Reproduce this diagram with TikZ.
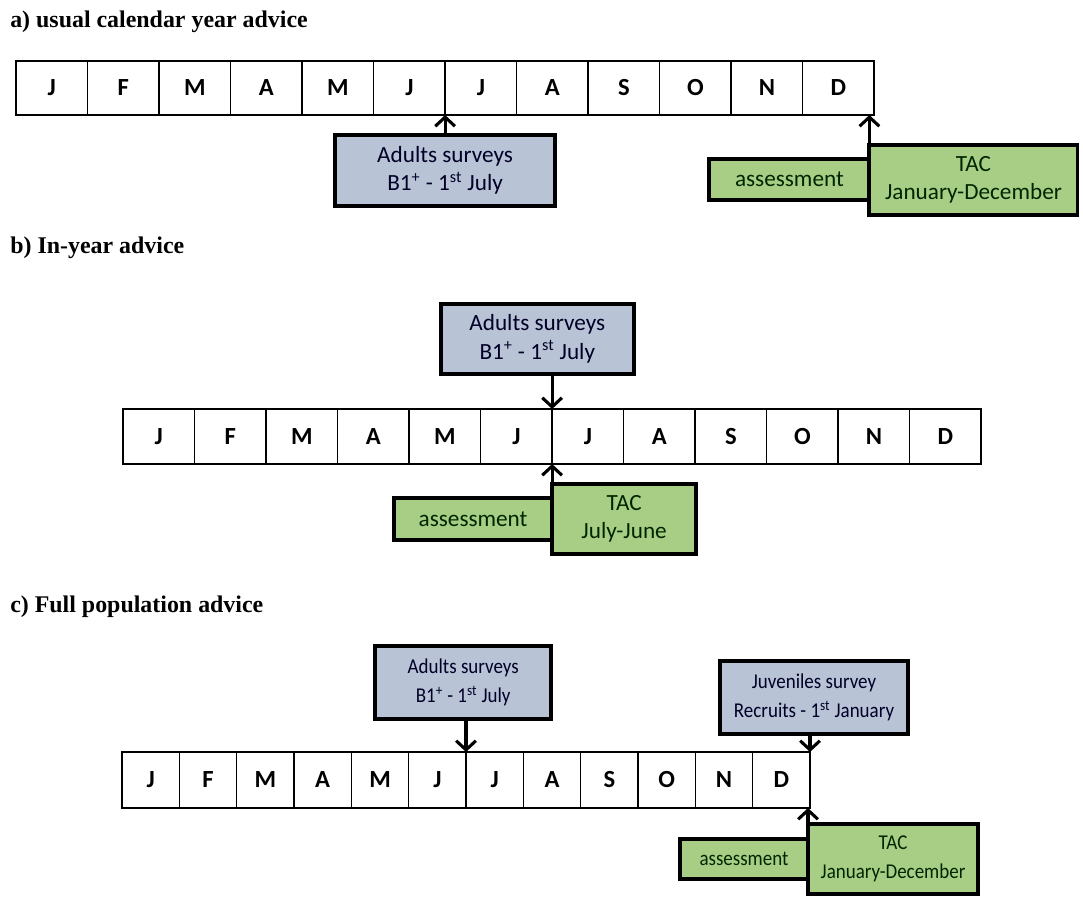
\documentclass[tikz,border=0pt]{standalone}
\usepackage{fontspec}
\setmainfont{Carlito}
\newfontfamily\titlefont{Liberation Serif}
\newfontfamily\narrowfont{Carlito}[FakeStretch=0.9]
\usetikzlibrary{positioning}
\usetikzlibrary{arrows.meta}
\definecolor{surveyblue}{RGB}{184,195,214}
\definecolor{tacgreen}{RGB}{168,206,134}
\tikzstyle{month} = [rectangle, minimum width=1.7875cm, minimum height=1.36cm, inner sep=0pt, outer sep=0pt, draw=black, line width=1.1pt, font=\bfseries\fontsize{17.5}{17.5}\selectfont]
\tikzstyle{monthc} = [month, minimum width=1.433cm, minimum height=1.4cm]
\tikzstyle{survey} = [rectangle, align=center, inner sep=0pt, outer sep=0pt, draw=black, line width=2.8pt, fill=surveyblue, text=black!85!blue, font=\fontsize{16.5}{20}\selectfont]
\tikzstyle{surveyc} = [survey, font=\narrowfont\fontsize{15}{20.5}\selectfont]
\tikzstyle{tac} = [survey, fill=tacgreen, text=black!85!green]
\tikzstyle{tacc} = [surveyc, fill=tacgreen, text=black!85!green]
\tikzstyle{heading} = [anchor=base west, inner sep=0pt, font=\titlefont\bfseries\fontsize{17}{17}\selectfont]
\tikzstyle{arrow} = [line width=2.2pt,->,>={Straight Barb[length=6.5pt,width=14pt]}]

\begin{document}
\begin{tikzpicture}[x=0.025cm, y=-0.025cm]
        \useasboundingbox (0,0) rectangle (1083,898);
        % a) usual calendar year advice
        \node (tita) [heading] at (10,28) {a) usual calendar year advice};
        \node (a1) [month, minimum height=1.35cm] at (51.75,88) {J};
        \node (a2) [month, minimum height=1.35cm, right=0pt of a1] {F};
        \node (a3) [month, minimum height=1.35cm, right=0pt of a2] {M};
        \node (a4) [month, minimum height=1.35cm, right=0pt of a3] {A};
        \node (a5) [month, minimum height=1.35cm, right=0pt of a4] {M};
        \node (a6) [month, minimum height=1.35cm, right=0pt of a5] {J};
        \node (a7) [month, minimum height=1.35cm, right=0pt of a6] {J};
        \node (a8) [month, minimum height=1.35cm, right=0pt of a7] {A};
        \node (a9) [month, minimum height=1.35cm, right=0pt of a8] {S};
        \node (a10) [month, minimum height=1.35cm, right=0pt of a9] {O};
        \node (a11) [month, minimum height=1.35cm, right=0pt of a10] {N};
        \node (a12) [month, minimum height=1.35cm, right=0pt of a11] {D};
        \node (surva) [survey, minimum width=5.5cm, minimum height=1.78cm, below=0.5cm of a6.south east] {Adults surveys\\B1\textsuperscript{+} - 1\textsuperscript{st} July};
        \node (taca) [tac, minimum width=5.2cm, minimum height=1.75cm, below right=0.74cm and -0.12cm of a12.south east] {TAC\\January-December};
        \node (assa) [tac, minimum width=4.0cm, minimum height=1.02cm, left=0pt of taca] {assessment};
        \draw [arrow] (surva) -- (a6.south east);
        \draw [arrow] (taca.north west) -- (taca.north west |- a12.south);

        % b) In-year advice
        \node (titb) [heading] at (10,254) {b) In-year advice};
        \node (b1) [month, minimum height=1.375cm] at (158.75,436.5) {J};
        \node (b2) [month, minimum height=1.375cm, right=0pt of b1] {F};
        \node (b3) [month, minimum height=1.375cm, right=0pt of b2] {M};
        \node (b4) [month, minimum height=1.375cm, right=0pt of b3] {A};
        \node (b5) [month, minimum height=1.375cm, right=0pt of b4] {M};
        \node (b6) [month, minimum height=1.375cm, right=0pt of b5] {J};
        \node (b7) [month, minimum height=1.375cm, right=0pt of b6] {J};
        \node (b8) [month, minimum height=1.375cm, right=0pt of b7] {A};
        \node (b9) [month, minimum height=1.375cm, right=0pt of b8] {S};
        \node (b10) [month, minimum height=1.375cm, right=0pt of b9] {O};
        \node (b11) [month, minimum height=1.375cm, right=0pt of b10] {N};
        \node (b12) [month, minimum height=1.375cm, right=0pt of b11] {D};
        \node (survb) [survey, minimum width=4.82cm, minimum height=1.75cm, above=0.88cm of b6.north east, xshift=-0.37cm] {Adults surveys\\B1\textsuperscript{+} - 1\textsuperscript{st} July};
        \node (tacb) [tac, minimum width=3.6cm, minimum height=1.75cm, below right=0.5cm and 0cm of b6.south east] {TAC\\July-June};
        \node (assb) [tac, minimum width=3.95cm, minimum height=1.05cm, left=0pt of tacb] {assessment};
        \draw [arrow] (survb.south -| b6.north east) -- (b6.north east);
        \draw [arrow] (tacb.north west) -- (b6.south east);

        % c) Full population advice
        \node (titc) [heading] at (10,612) {c) Full population advice};
        \node (c1) [monthc] at (150.67,780) {J};
        \node (c2) [monthc, right=0pt of c1] {F};
        \node (c3) [monthc, right=0pt of c2] {M};
        \node (c4) [monthc, right=0pt of c3] {A};
        \node (c5) [monthc, right=0pt of c4] {M};
        \node (c6) [monthc, right=0pt of c5] {J};
        \node (c7) [monthc, right=0pt of c6] {J};
        \node (c8) [monthc, right=0pt of c7] {A};
        \node (c9) [monthc, right=0pt of c8] {S};
        \node (c10) [monthc, right=0pt of c9] {O};
        \node (c11) [monthc, right=0pt of c10] {N};
        \node (c12) [monthc, right=0pt of c11] {D};
        \node (survc) [surveyc, minimum width=4.4cm, minimum height=1.82cm, above=0.82cm of c6.north east, xshift=-0.07cm] {Adults surveys\\B1\textsuperscript{+} - 1\textsuperscript{st} July};
        \node (juvc) [surveyc, minimum width=4.7cm, minimum height=1.82cm, above=0.45cm of c12.north east, xshift=0.1cm] {Juveniles survey\\Recruits - 1\textsuperscript{st} January};
        \node (tacc) [tacc, minimum width=4.25cm, minimum height=1.75cm, below right=0.4cm and -0.05cm of c12.south east] {TAC\\January-December};
        \node (assc) [tacc, minimum width=3.2cm, minimum height=1.02cm, left=0pt of tacc] {assessment};
        \draw [arrow] (survc.south -| c6.north east) -- (c6.north east);
        \draw [arrow] (juvc.south -| c12.north east) -- (c12.north east);
        \draw [arrow] (tacc.north west) -- (tacc.north west |- c12.south);
    \end{tikzpicture}
\end{document}
